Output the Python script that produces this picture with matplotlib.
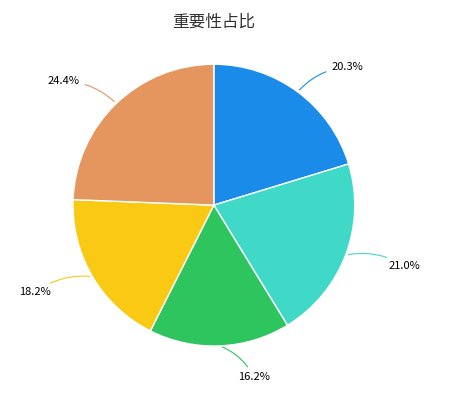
import numpy as np
import matplotlib.pyplot as plt

plt.rcParams['font.family'] = ['Noto Sans CJK SC', 'DejaVu Sans']

title = '重要性占比'
values = [20.3, 21.0, 16.2, 18.2, 24.4]
colors = ['#1a8be8', '#40d9c8', '#2ec45e', '#f9c914', '#e5955e']

fig = plt.figure(figsize=(4.56, 4.03), dpi=100)
ax = fig.add_axes([0.469 - 0.309, 0.491 - 0.35, 0.618, 0.70])
wedges, _ = ax.pie(values, colors=colors, startangle=90, counterclock=False,
                   wedgeprops=dict(edgecolor='white', linewidth=1))
ax.set_aspect('equal')
ax.set_xlim(-1, 1)
ax.set_ylim(-1, 1)

for w, v, c in zip(wedges, values, colors):
    ang = np.deg2rad((w.theta1 + w.theta2) / 2)
    x, y = np.cos(ang), np.sin(ang)
    side = 1 if x >= 0 else -1
    tx, ty = 1.2 * x + 0.12 * side, 1.22 * y
    ax.annotate('%.1f%%' % v, xy=(x, y), xytext=(tx, ty),
                ha='left' if side > 0 else 'right', va='center', fontsize=8,
                annotation_clip=False,
                arrowprops=dict(arrowstyle='-', color=c, lw=0.8,
                                connectionstyle='arc3,rad=%.2f' % (0.2 * side)))

fig.text(0.469, 0.945, title, ha='center', va='center', fontsize=12, color='#333333')
fig.savefig('out.png', dpi=100)
